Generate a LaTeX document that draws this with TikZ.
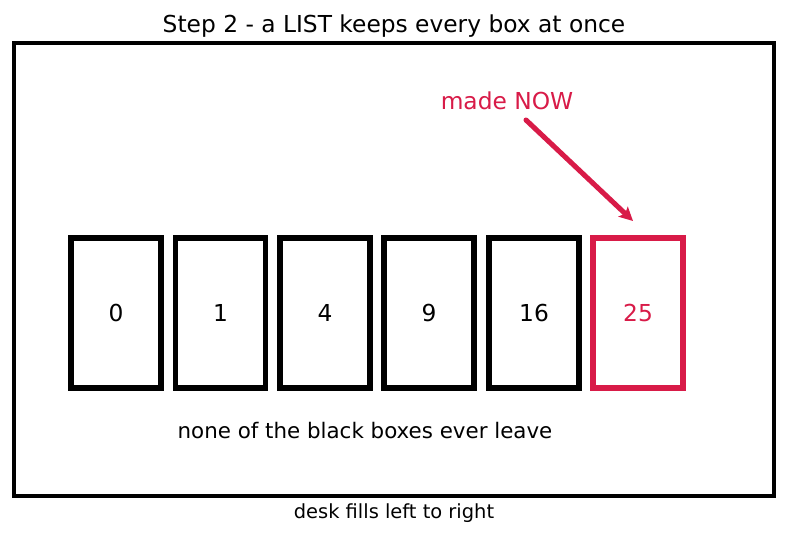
\documentclass[tikz,border=0pt]{standalone}
\usepackage{fontspec}
\setmainfont{DejaVu Sans}
\usetikzlibrary{arrows.meta}
\definecolor{hot}{HTML}{D81B48}
\begin{document}
\begin{tikzpicture}[x=0.5143pt,y=-0.5143pt,
  cell/.style={draw=black,line width=2.9pt,minimum width=90*0.5143pt,minimum height=150*0.5143pt,inner sep=0pt,font=\fontsize{12}{14}\selectfont},
  hotcell/.style={cell,draw=hot,text=hot},
  lbl/.style={font=\fontsize{11}{13}\selectfont,inner sep=0pt}]
\useasboundingbox (0,0) rectangle (787,537);
\node[font=\fontsize{12}{14}\selectfont,inner sep=0pt] (title) at (394,26) {Step 2 - a LIST keeps every box at once};
\node[draw,line width=1.7pt,minimum width=760*0.5143pt,minimum height=453*0.5143pt,inner sep=0pt] (desk) at (394,269.5) {};
\node[cell] (b0) at (116,313) {0};
\node[cell] (b1) at (220.5,313) {1};
\node[cell] (b2) at (325,313) {4};
\node[cell] (b3) at (429,313) {9};
\node[cell] (b4) at (534,313) {16};
\node[hotcell] (b5) at (638,313) {25};
\node[font=\fontsize{12}{14}\selectfont,text=hot,inner sep=0pt] (now) at (507,101) {made NOW};
\coordinate (tail) at (526,120);
\coordinate (tip) at (633,221);
\draw[hot,line width=2.6pt,line cap=round,-{Stealth[length=7pt,width=7pt,inset=1.5pt]}] (tail) -- (tip);
\node[lbl] (none) at (365,431) {none of the black boxes ever leave};
\node[font=\fontsize{10}{12}\selectfont,inner sep=0pt] (cap) at (394,513) {desk fills left to right};
\end{tikzpicture}
\end{document}
